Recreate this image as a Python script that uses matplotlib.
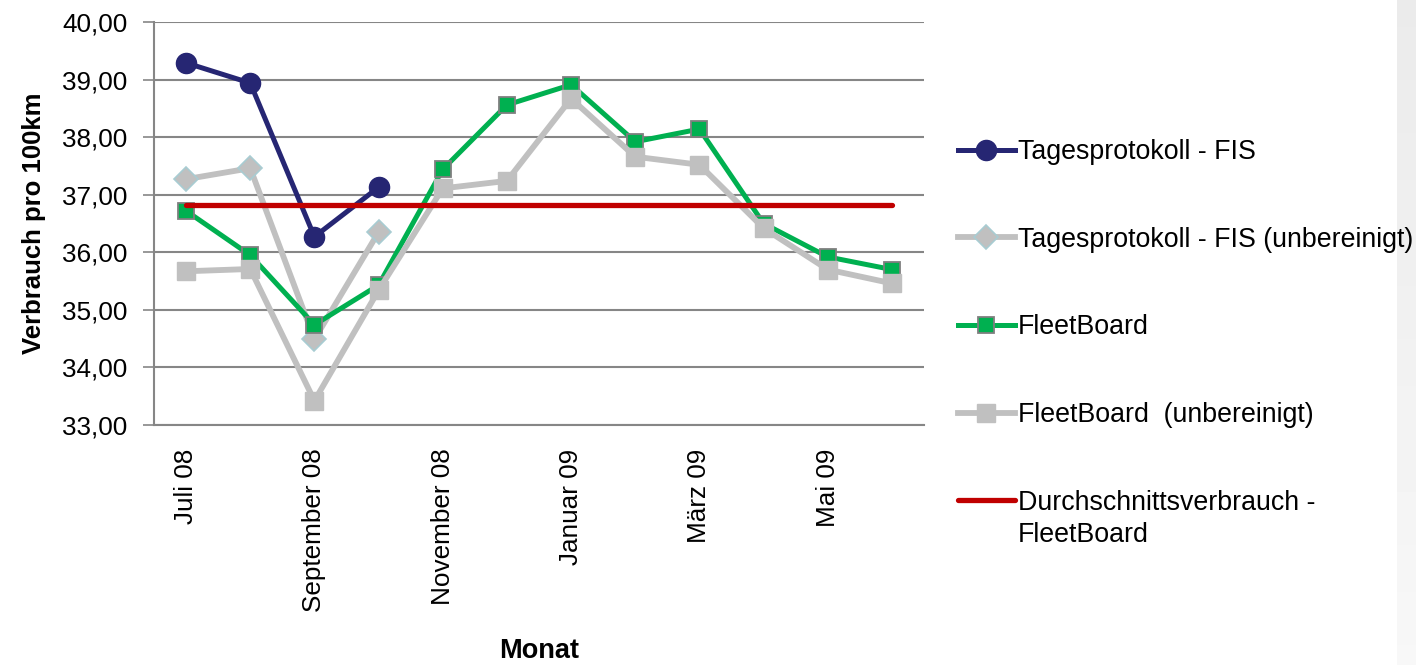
import numpy as np
import matplotlib
matplotlib.use('Agg')
import matplotlib.pyplot as plt
from matplotlib.ticker import FuncFormatter

plt.rcParams['font.family'] = ['Liberation Sans', 'DejaVu Sans']

monate = ['Juli 08', 'August 08', 'September 08', 'Oktober 08', 'November 08',
          'Dezember 08', 'Januar 09', 'Februar 09', 'März 09', 'April 09',
          'Mai 09', 'Juni 09']
fis = [39.29, 38.94, 36.27, 37.13]
fis_unber = [37.27, 37.46, 34.49, 36.35]
fleet = [36.72, 35.95, 34.74, 35.43, 37.44, 38.56, 38.91, 37.92, 38.14,
         36.50, 35.92, 35.70]
fleet_unber = [35.67, 35.71, 33.42, 35.34, 37.11, 37.24, 38.67, 37.66, 37.52,
               36.42, 35.70, 35.46]
durchschnitt = 36.82

W, H = 1416, 665
fig = plt.figure(figsize=(W / 100, H / 100), dpi=100)

# grauer Streifen rechts (hinter allem)
band = fig.add_axes([1397/W, 0, 19/W, 1], zorder=-5)
grad = np.linspace(0.92, 0.97, 100).reshape(-1, 1)
band.imshow(grad, aspect='auto', cmap='gray', vmin=0, vmax=1)
band.axis('off')

ax = fig.add_axes([154/W, 1-425/H, 770/W, 403/H])
ax.patch.set_alpha(0)

x = np.arange(len(monate))
ax.plot(x[:len(fis)], fis, color='#262673', lw=3.6, marker='o', ms=14.5,
        label='Tagesprotokoll - FIS')
ax.plot(x[:len(fis_unber)], fis_unber, color='#C0C0C0', lw=4.2, marker='D',
        ms=12, mfc='#C0C0C0', mec='#A8CCD2', mew=1.2,
        label='Tagesprotokoll - FIS (unbereinigt)')
ax.plot(x, fleet, color='#00B050', lw=3.6, marker='s', ms=11, mfc='#00B050',
        mec='#7F7F7F', mew=1.3, label='FleetBoard')
ax.plot(x, fleet_unber, color='#C0C0C0', lw=4.2, marker='s', ms=13.5,
        label='FleetBoard  (unbereinigt)')
ax.plot([x[0], x[-1]], [durchschnitt, durchschnitt], color='#C00000', lw=3.8,
        solid_capstyle='round', label='Durchschnittsverbrauch -')

ax.set_xlim(-0.5, len(monate) - 0.5)
ax.set_ylim(33, 40)
ax.set_yticks(np.arange(33, 41, 1))
ax.yaxis.set_major_formatter(FuncFormatter(lambda v, p: f'{v:.2f}'.replace('.', ',')))
ax.set_xticks(x[::2])
ax.set_xticklabels(monate[::2], rotation=90)
ax.tick_params(axis='x', length=0, pad=17, labelsize=18.8)
ax.tick_params(axis='y', length=8, width=1.2, color='#868686', pad=11, labelsize=18.8)

ax.grid(axis='y', color='#868686', lw=1.5)
ax.set_axisbelow(True)
for s in ['top', 'right']:
    ax.spines[s].set_visible(False)
for s in ['left', 'bottom']:
    ax.spines[s].set_color('#868686')
    ax.spines[s].set_linewidth(1.5)

ax.set_xlabel('Monat', fontsize=19.5, fontweight='bold', labelpad=18.5)
ax.set_ylabel('Verbrauch pro 100km', fontsize=18.5, fontweight='bold', labelpad=12)

leg = ax.legend(loc='upper left', bbox_to_anchor=(958/W, 1-139/H),
                bbox_transform=fig.transFigure, frameon=False, fontsize=19.3,
                handlelength=2.12, handletextpad=0.11, labelspacing=2.3,
                borderpad=0, borderaxespad=0)

# zweite Zeile des letzten Legendeneintrags
fig.canvas.draw()
bb = leg.get_texts()[-1].get_window_extent()
fig.text(bb.x0 / W, (bb.y0 - 32) / H, 'FleetBoard', fontsize=19.3,
         ha='left', va='bottom')

fig.savefig('out.png', dpi=100)
